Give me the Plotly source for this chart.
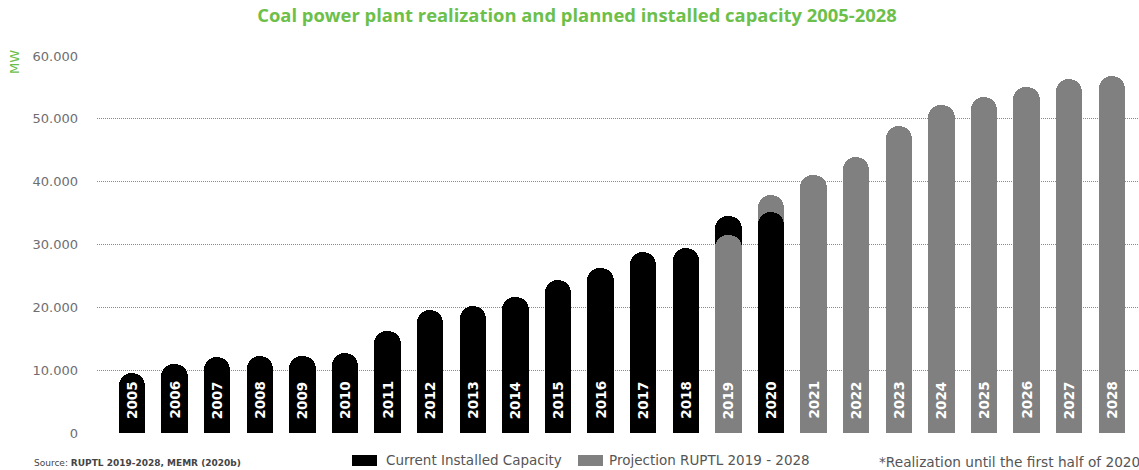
import plotly.graph_objects as go

# Installed coal capacity (MW)
years = [2005, 2006, 2007, 2008, 2009, 2010, 2011, 2012, 2013, 2014, 2015, 2016,
         2017, 2018, 2019, 2020, 2021, 2022, 2023, 2024, 2025, 2026, 2027, 2028]
current_years = [2005, 2006, 2007, 2008, 2009, 2010, 2011, 2012, 2013, 2014, 2015,
                 2016, 2017, 2018, 2019, 2020]
current_mw = [9500, 11000, 12100, 12300, 12300, 12800, 16300, 19600, 20200, 21600,
              24400, 26200, 28800, 29500, 34500, 35200]
projection_years = [2019, 2020, 2021, 2022, 2023, 2024, 2025, 2026, 2027, 2028]
projection_mw = [31500, 37900, 41100, 43900, 48900, 52200, 53400, 55000, 56300, 56800]

y_ticks = [0, 10000, 20000, 30000, 40000, 50000, 60000]
y_tick_labels = ["0", "10.000", "20.000", "30.000", "40.000", "50.000", "60.000"]

BLACK = "#000000"
GREY = "#808080"
GREEN = "#6cc04a"
TEXT_GREY = "#6d6e71"
FONT = "DejaVu Sans"

W, H = 1139, 470
ML, MR, MT, MB = 97, 0, 56, 37
BAR_W = 0.62
X_RANGE = [2004.18, 2028.64]


def px_x(px):
    return (px - ML) / (W - ML - MR)


def px_y(py):
    return (H - MB - py) / (H - MT - MB)


def bar_marker(color):
    return dict(color=color, cornerradius="50%", line=dict(width=0))


fig = go.Figure()

# projection bars that sit behind the realised ones (2020 onward)
back_idx = [i for i, y in enumerate(projection_years) if y != 2019]
fig.add_trace(go.Bar(
    x=[projection_years[i] for i in back_idx],
    y=[projection_mw[i] for i in back_idx],
    width=BAR_W, marker=bar_marker(GREY), xaxis="x",
    name="Projection RUPTL 2019 - 2028", showlegend=False, hoverinfo="x+y",
))

# realised capacity (own overlaid axis so each bar keeps its rounded cap)
fig.add_trace(go.Bar(
    x=current_years, y=current_mw,
    width=BAR_W, marker=bar_marker(BLACK), xaxis="x2",
    name="Current Installed Capacity", showlegend=False, hoverinfo="x+y",
))

# 2019 projection is drawn in front of the realised bar
front_idx = [i for i, y in enumerate(projection_years) if y == 2019]
fig.add_trace(go.Bar(
    x=[projection_years[i] for i in front_idx],
    y=[projection_mw[i] for i in front_idx],
    width=BAR_W, marker=bar_marker(GREY), xaxis="x3",
    name="Projection RUPTL 2019 - 2028", showlegend=False, hoverinfo="x+y",
))

annotations = []
# year labels inside each bar
for yr in years:
    annotations.append(dict(
        x=yr, y=0, xref="x", yref="y", text=str(yr), textangle=-90,
        showarrow=False, xanchor="center", yanchor="bottom", yshift=12,
        font=dict(family=FONT, size=13.5, color="white", weight=700),
    ))

# axis unit
annotations.append(dict(
    x=px_x(15), y=px_y(62), xref="paper", yref="paper", text="MW",
    textangle=-90, showarrow=False, xanchor="center", yanchor="middle",
    font=dict(family=FONT, size=13, color=GREEN),
))

# source line
annotations.append(dict(
    x=px_x(32), y=px_y(463), xref="paper", yref="paper",
    text="Source: <b>RUPTL 2019-2028, MEMR (2020b)</b>",
    showarrow=False, xanchor="left", yanchor="middle",
    font=dict(family=FONT, size=9, color="#444444"),
))

# legend entries
legend_items = [(BLACK, 352, "Current Installed Capacity", 384),
                (GREY, 578, "Projection RUPTL 2019 - 2028", 607)]
shapes = []
for color, sx, label, tx in legend_items:
    shapes.append(dict(
        type="rect", xref="paper", yref="paper",
        x0=px_x(sx), x1=px_x(sx + 25), y0=px_y(466), y1=px_y(455),
        fillcolor=color, line=dict(width=0),
    ))
    annotations.append(dict(
        x=px_x(tx), y=px_y(460), xref="paper", yref="paper", text=label,
        showarrow=False, xanchor="left", yanchor="middle",
        font=dict(family=FONT, size=13.5, color="#555555"),
    ))

annotations.append(dict(
    x=px_x(877), y=px_y(462), xref="paper", yref="paper",
    text="*Realization until the first half of 2020",
    showarrow=False, xanchor="left", yanchor="middle",
    font=dict(family=FONT, size=13.7, color="#555555"),
))

hidden_x = dict(range=X_RANGE, showticklabels=False, showgrid=False,
                zeroline=False, showline=False, ticks="")

fig.update_layout(
    width=W, height=H,
    margin=dict(l=ML, r=MR, t=MT, b=MB, autoexpand=False),
    paper_bgcolor="white", plot_bgcolor="white",
    barmode="overlay", bargap=0,
    showlegend=False,
    title=dict(
        text="Coal power plant realization and planned installed capacity 2005-2028",
        x=577 / W, xanchor="center",
        y=1 - 16 / H, yanchor="middle",
        font=dict(family="Open Sans", size=18.4, color=GREEN, weight=700),
    ),
    xaxis=hidden_x,
    xaxis2=dict(hidden_x, overlaying="x"),
    xaxis3=dict(hidden_x, overlaying="x"),
    yaxis=dict(
        range=[0, 60000], tickvals=y_ticks, ticktext=y_tick_labels,
        showgrid=True, gridcolor="#8a8a8a", gridwidth=1, griddash="1px,1px",
        zeroline=False, showline=False, ticks="", ticklabelstandoff=18,
        tickfont=dict(family=FONT, size=13, color=TEXT_GREY),
    ),
    annotations=annotations,
    shapes=shapes,
)

fig.write_html("out.html")
